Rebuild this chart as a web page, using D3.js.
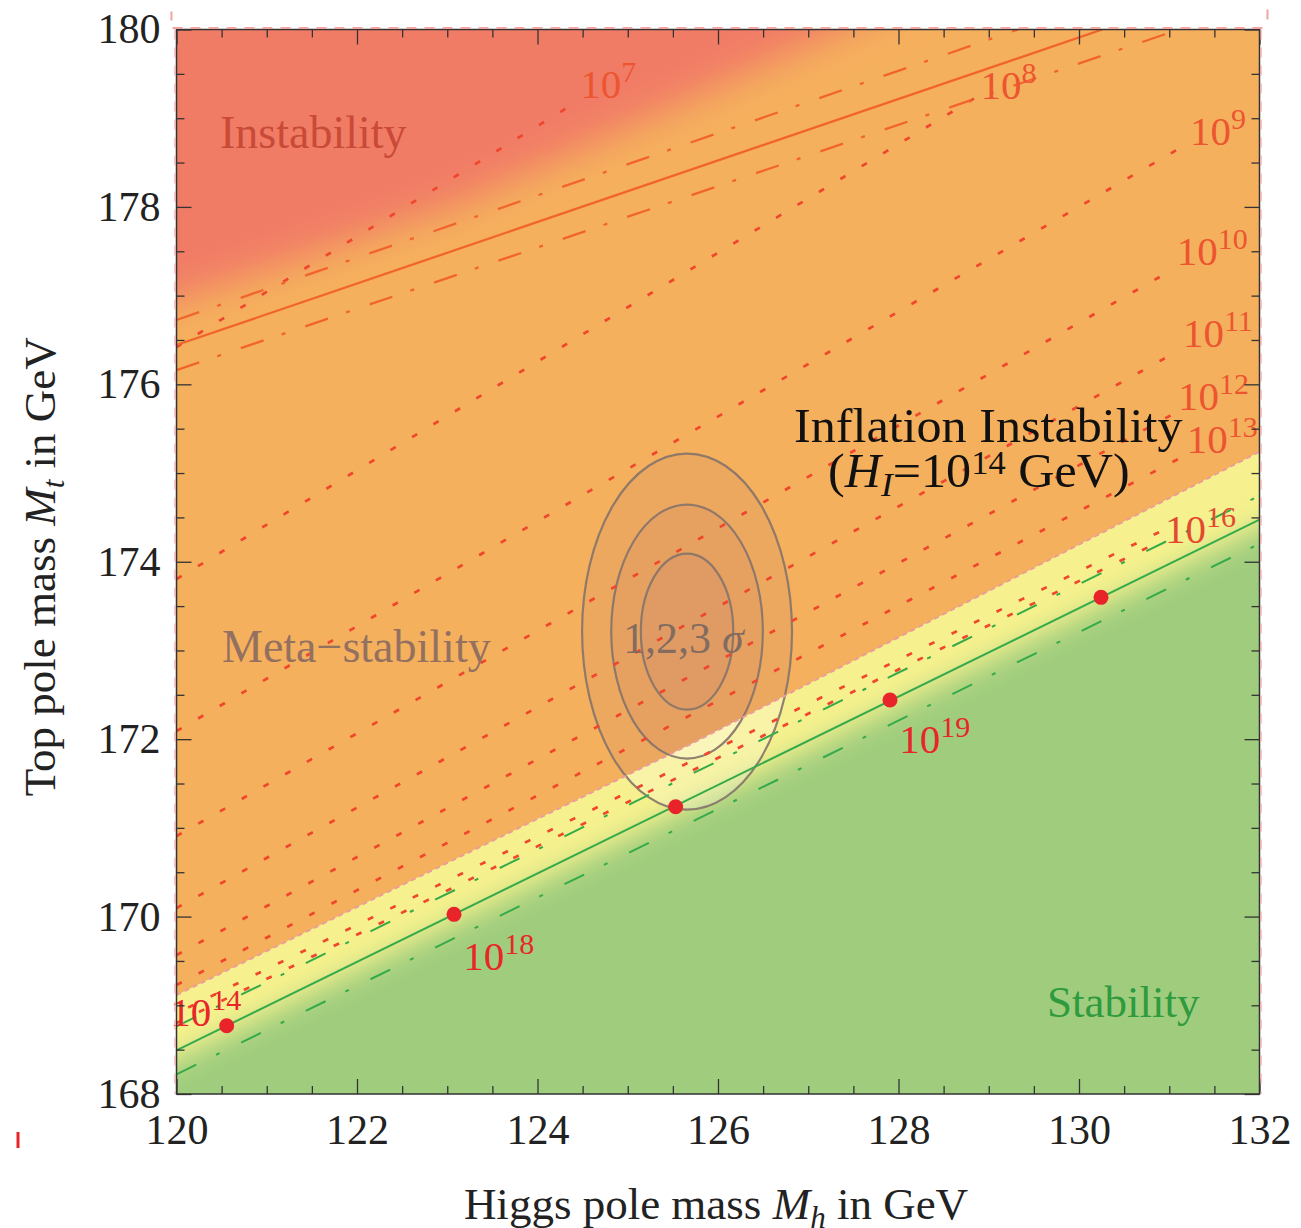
<!DOCTYPE html>
<html><head><meta charset="utf-8">
<script src="https://cdn.jsdelivr.net/npm/d3@7"></script>
<style>
html,body{margin:0;padding:0;background:#fff;}
svg{display:block;}
text{font-family:"Liberation Serif","Times New Roman",serif;}
</style></head><body>
<div id="chart"></div>
<script>
// ---------------- data ----------------
const xDomain = [120, 132];
const yDomain = [168, 180];
const xTickValues = [120, 122, 124, 126, 128, 130, 132];
const yTickValues = [168, 170, 172, 174, 176, 178, 180];

// absolute-stability boundary (orange) : central + error band
const instabilitySolid = [[120, 176.443], [130.259, 180]];
const instabilityUpper = [[120, 176.725], [129.324, 180]];
const instabilityLower = [[120, 176.161], [131.108, 180]];
// colour edge of the red "Instability" shading
const instabilityEdge = [[120, 176.95], [123.1, 178.02], [125.65, 179.2], [127.35, 180]];

// inflation-instability boundary (H_I = 10^14 GeV)
const inflationBoundary = [[120, 169.115], [125.69, 171.94], [132, 175.24]];

// stability line (green) : central + error band
const stabilitySolid = [[120, 168.492], [132, 174.474]];
const stabilityUpper = [[120, 168.762], [132, 174.744]];
const stabilityLower = [[120, 168.222], [132, 174.204]];

// dotted instability-scale contours inside the yellow band
const bandDotted1 = [[120, 168.80], [130.9, 174.23]];
const bandDotted2 = [[120, 168.91], [130.9, 174.34]];

// dotted instability-scale contours 10^7 ... 10^13 GeV
const scaleExponents = [7, 8, 9, 10, 11, 12, 13];
const scaleLineStart = [[120, 176.420], [120, 173.805], [120, 172.091], [120, 170.908], [120, 170.096], [120, 169.566], [120, 169.228]];
const scaleLineEnd = [[124.416, 179.171], [128.903, 179.262], [131.119, 178.664], [130.931, 177.232], [130.975, 176.308], [131.086, 175.688], [131.119, 175.169]];
const scaleLabelPos = [[124.475, 179.228], [128.908, 179.216], [131.23, 178.698], [131.083, 177.345], [131.152, 176.42], [131.097, 175.71], [131.193, 175.225]];

// points on the stability line
const pointMh = [120.556, 123.075, 125.531, 127.906, 130.244];
const pointMt = [168.769, 170.025, 171.238, 172.441, 173.599];
const pointLabelExp = [14, 18, 16, 19];
const pointLabelPos = [[119.93, 168.765], [123.178, 169.397], [130.953, 174.211], [128.009, 171.843]];

// 1,2,3 sigma ellipses
const sigmaCenter = [125.657, 173.213];
const sigmaRx = [0.512, 0.840, 1.163];
const sigmaRy = [0.879, 1.432, 2.007];

// region labels [text, Mh, Mt, colour, size]
const regionLabels = [
  ["Instability", 120.482, 178.664, "#c94a36", 46],
  ["Meta\u2212stability", 120.504, 172.869, "#937060", 46],
  ["Stability", 129.645, 168.867, "#2f9a3e", 45]
];
const inflationLabelPos = [[126.842, 175.35], [127.219, 174.842]];
const sigmaLabelPos = [124.947, 172.971];

// ---------------- drawing ----------------
const W = 1301, H = 1228;
const x = d3.scaleLinear().domain(xDomain).range([176.5, 1259.5]);
const y = d3.scaleLinear().domain(yDomain).range([1094, 29.5]);
const [px0, px1] = x.range();
const [pyB, pyT] = y.range();

const svg = d3.select("#chart").append("svg").attr("width", W).attr("height", H);
const defs = svg.append("defs");
const line = d3.line().x(d => x(d[0])).y(d => y(d[1]));
const polyStr = pts => pts.map(d => x(d[0]) + "," + y(d[1])).join(" ");

function extend(pts, a, b) {
  const p0 = pts[0], p1 = pts[1], q0 = pts[pts.length - 2], q1 = pts[pts.length - 1];
  const s0 = (p1[1] - p0[1]) / (p1[0] - p0[0]);
  const s1 = (q1[1] - q0[1]) / (q1[0] - q0[0]);
  return [[a, p0[1] + s0 * (a - p0[0])], ...pts, [b, q1[1] + s1 * (b - q1[0])]];
}
const shift = (pts, d) => pts.map(p => [p[0], p[1] + d]);

defs.append("clipPath").attr("id", "plotClip").append("rect")
  .attr("x", px0).attr("y", pyT).attr("width", px1 - px0).attr("height", pyB - pyT);

const boundaryExt = extend(inflationBoundary, 118, 134);
defs.append("clipPath").attr("id", "belowClip").append("polygon")
  .attr("points", polyStr(boundaryExt.concat([[134, 165], [118, 165]])));
defs.append("clipPath").attr("id", "aboveClip").append("polygon")
  .attr("points", polyStr(boundaryExt.concat([[134, 183], [118, 183]])));

function blurFilter(id, sd) {
  defs.append("filter").attr("id", id).attr("filterUnits", "userSpaceOnUse")
    .attr("x", -100).attr("y", -100).attr("width", W + 200).attr("height", H + 200)
    .append("feGaussianBlur").attr("stdDeviation", sd);
}
blurFilter("blurRed", 19);
blurFilter("blurYellow", 14);

const plot = svg.append("g").attr("clip-path", "url(#plotClip)");

// orange (meta-stability) background
plot.append("rect").attr("x", px0).attr("y", pyT).attr("width", px1 - px0).attr("height", pyB - pyT)
  .attr("fill", "#f5b05d");

// red instability shading
const redPoly = extend(instabilityEdge, 117, 129).concat([[129, 183], [117, 183]]);
plot.append("polygon").attr("points", polyStr(redPoly)).attr("fill", "#f17b66")
  .attr("filter", "url(#blurRed)");

// green + yellow below boundary
const below = plot.append("g").attr("clip-path", "url(#belowClip)");
below.append("rect").attr("x", px0).attr("y", pyT).attr("width", px1 - px0).attr("height", pyB - pyT)
  .attr("fill", "#9fcd7d");
const yTop = extend(shift(inflationBoundary, 0.8), 117, 135);
const yBot = extend(shift(stabilitySolid, -0.1), 117, 135).reverse();
below.append("polygon").attr("points", polyStr(yTop.concat(yBot))).attr("fill", "#f6f18e")
  .attr("filter", "url(#blurYellow)");

// sigma ellipses
const ellAbove = plot.append("g").attr("clip-path", "url(#aboveClip)");
const ellBelow = plot.append("g").attr("clip-path", "url(#belowClip)");
const ellGeom = (sel, i) => sel.attr("cx", x(sigmaCenter[0])).attr("cy", y(sigmaCenter[1]))
  .attr("rx", x(sigmaCenter[0] + sigmaRx[i]) - x(sigmaCenter[0]))
  .attr("ry", y(sigmaCenter[1]) - y(sigmaCenter[1] + sigmaRy[i]));
sigmaRx.forEach((rx, i) => {
  ellAbove.append("ellipse").call(ellGeom, i).attr("fill", "rgba(175,105,115,0.11)");
  ellBelow.append("ellipse").call(ellGeom, i).attr("fill", "rgba(255,252,240,0.25)");
});
sigmaRx.forEach((rx, i) => {
  plot.append("ellipse").call(ellGeom, i)
    .attr("fill", "none").attr("stroke", "#85736a").attr("stroke-width", 2.2).attr("stroke-opacity", 0.9);
});

// boundary edge (pink dashed)
plot.append("path").attr("d", line(inflationBoundary)).attr("fill", "none")
  .attr("stroke", "#ee9a9e").attr("stroke-width", 2).attr("stroke-dasharray", "5,4");

// dotted scale contours
const dotted = sel => sel.attr("fill", "none").attr("stroke", "#f0462d").attr("stroke-width", 2.7)
  .attr("stroke-dasharray", "6,19");
scaleExponents.forEach((e, i) => {
  plot.append("path").attr("d", line([scaleLineStart[i], scaleLineEnd[i]])).call(dotted);
});
plot.append("path").attr("d", line(bandDotted1)).call(dotted);
plot.append("path").attr("d", line(bandDotted2)).call(dotted).attr("stroke-dashoffset", 12);

// instability (orange) lines
const oCol = "#f2642d";
plot.append("path").attr("d", line(instabilitySolid)).attr("fill", "none").attr("stroke", oCol).attr("stroke-width", 2.3);
[instabilityUpper, instabilityLower].forEach(l => plot.append("path").attr("d", line(l)).attr("fill", "none")
  .attr("stroke", oCol).attr("stroke-width", 2.3).attr("stroke-dasharray", "24,19,4,21"));

// stability (green) lines
const gCol = "#35aa4a";
plot.append("path").attr("d", line(stabilitySolid)).attr("fill", "none").attr("stroke", gCol).attr("stroke-width", 2);
[stabilityUpper, stabilityLower].forEach(l => plot.append("path").attr("d", line(l)).attr("fill", "none")
  .attr("stroke", gCol).attr("stroke-width", 2).attr("stroke-dasharray", "22,22,4,24"));

// points
plot.selectAll("circle.pt").data(pointMh).join("circle").attr("class", "pt")
  .attr("cx", d => x(d)).attr("cy", (d, i) => y(pointMt[i])).attr("r", 7.5).attr("fill", "#e8232a");

// ---------------- text labels ----------------
function powLabel(pos, exp, color, base = 41, sup = 30) {
  const t = svg.append("text").attr("x", x(pos[0])).attr("y", y(pos[1])).attr("fill", color)
    .attr("font-size", base);
  t.append("tspan").text("10");
  t.append("tspan").attr("dy", -16).attr("font-size", sup).text(String(exp));
}
scaleExponents.forEach((e, i) => powLabel(scaleLabelPos[i], e, "#ec5530"));
pointLabelExp.forEach((e, i) => powLabel(pointLabelPos[i], e, e === 16 ? "#e24a30" : "#e8262a"));

regionLabels.forEach(([s, mh, mt, c, fs]) => {
  svg.append("text").attr("x", x(mh)).attr("y", y(mt)).attr("fill", c).attr("font-size", fs).text(s);
});

svg.append("text")
  .attr("transform", `translate(${x(inflationLabelPos[0][0])},${y(inflationLabelPos[0][1])}) scale(1.045,1)`)
  .attr("font-size", 48).attr("fill", "#111").text("Inflation Instability");
const inf2 = svg.append("text")
  .attr("transform", `translate(${x(inflationLabelPos[1][0])},${y(inflationLabelPos[1][1])}) scale(1.045,1)`)
  .attr("font-size", 48).attr("fill", "#111");
inf2.append("tspan").text("(");
inf2.append("tspan").attr("font-style", "italic").text("H");
inf2.append("tspan").attr("font-style", "italic").attr("font-size", 34).attr("dy", 9).text("I");
inf2.append("tspan").attr("dy", -9).text("=10");
inf2.append("tspan").attr("font-size", 33).attr("dy", -13).text("14");
inf2.append("tspan").attr("dy", 13).text(" GeV)");

const sg = svg.append("text").attr("x", x(sigmaLabelPos[0])).attr("y", y(sigmaLabelPos[1]))
  .attr("font-size", 44).attr("fill", "#7d695f").attr("fill-opacity", 0.95);
sg.append("tspan").text("1,2,3 ");
sg.append("tspan").attr("font-style", "italic").text("\u03C3");

// ---------------- axes & frame ----------------
const minorX = d3.range(xDomain[0], xDomain[1] + 0.25, 0.5).filter(v => !xTickValues.includes(v));
const minorY = d3.range(yDomain[0], yDomain[1] + 0.25, 0.5).filter(v => !yTickValues.includes(v));
const axisStyle = g => {
  g.select(".domain").remove();
  g.attr("color", "#333").attr("font-family", "Liberation Serif, Times New Roman, serif").attr("font-size", 42);
  g.selectAll("line").attr("stroke-width", 1.3);
  g.selectAll("text").attr("fill", "#222");
};
svg.append("g").attr("transform", `translate(0,${pyB})`)
  .call(d3.axisBottom(x).tickValues(xTickValues).tickSize(-15).tickPadding(20).tickFormat(d3.format("d"))).call(axisStyle);
svg.append("g").attr("transform", `translate(0,${pyB})`)
  .call(d3.axisBottom(x).tickValues(minorX).tickSize(-8).tickFormat("")).call(axisStyle);
svg.append("g").attr("transform", `translate(${px0},0)`)
  .call(d3.axisLeft(y).tickValues(yTickValues).tickSize(-15).tickPadding(16).tickFormat(d3.format("d"))).call(axisStyle);
svg.append("g").attr("transform", `translate(${px0},0)`)
  .call(d3.axisLeft(y).tickValues(minorY).tickSize(-8).tickFormat("")).call(axisStyle);
svg.append("g").attr("transform", `translate(0,${pyT})`)
  .call(d3.axisTop(x).tickValues(xTickValues).tickSize(-15).tickFormat("")).call(axisStyle);
svg.append("g").attr("transform", `translate(0,${pyT})`)
  .call(d3.axisTop(x).tickValues(minorX).tickSize(-8).tickFormat("")).call(axisStyle);
svg.append("g").attr("transform", `translate(${px1},0)`)
  .call(d3.axisRight(y).tickValues(yTickValues).tickSize(-15).tickFormat("")).call(axisStyle);
svg.append("g").attr("transform", `translate(${px1},0)`)
  .call(d3.axisRight(y).tickValues(minorY).tickSize(-8).tickFormat("")).call(axisStyle);

svg.append("rect").attr("x", px0).attr("y", pyT).attr("width", px1 - px0).attr("height", pyB - pyT)
  .attr("fill", "none").attr("stroke", "#333").attr("stroke-width", 1.5);
// pinkish dashed overlay on the frame (as in the source image)
const pink = sel => sel.attr("stroke", "#f4a3a3").attr("stroke-width", 2).attr("stroke-dasharray", "10,8").attr("fill", "none");
svg.append("line").attr("x1", px0 - 4).attr("x2", px1 + 4).attr("y1", pyT - 1.5).attr("y2", pyT - 1.5).call(pink);
svg.append("line").attr("x1", px0 - 1.5).attr("x2", px0 - 1.5).attr("y1", pyT).attr("y2", pyB).call(pink).attr("stroke-opacity", 0.6);
svg.append("line").attr("x1", px1 + 1.5).attr("x2", px1 + 1.5).attr("y1", pyT).attr("y2", pyB).call(pink).attr("stroke-opacity", 0.6);
// small crop marks of the source figure
svg.append("line").attr("x1", px0 - 5).attr("x2", px0 - 5).attr("y1", pyT - 18).attr("y2", pyT - 9).call(pink);
svg.append("line").attr("x1", px1 + 8).attr("x2", px1 + 8).attr("y1", pyT - 20).attr("y2", pyT - 6).call(pink);
svg.append("line").attr("x1", 18).attr("x2", 18).attr("y1", pyB + 38).attr("y2", pyB + 54)
  .attr("stroke", "#e8232a").attr("stroke-width", 3);

// axis titles
const xt = svg.append("text").attr("x", (px0 + px1) / 2 - 2).attr("y", 1219).attr("text-anchor", "middle")
  .attr("font-size", 45).attr("fill", "#222");
xt.append("tspan").text("Higgs pole mass ");
xt.append("tspan").attr("font-style", "italic").text("M");
xt.append("tspan").attr("font-style", "italic").attr("font-size", 31).attr("dy", 9).text("h");
xt.append("tspan").attr("dy", -9).text(" in GeV");

const yt = svg.append("text").attr("transform", `translate(55,${(pyT + pyB) / 2 + 5}) rotate(-90)`)
  .attr("text-anchor", "middle").attr("font-size", 45).attr("fill", "#222");
yt.append("tspan").text("Top pole mass ");
yt.append("tspan").attr("font-style", "italic").text("M");
yt.append("tspan").attr("font-style", "italic").attr("font-size", 31).attr("dy", 9).text("t");
yt.append("tspan").attr("dy", -9).text(" in GeV");
</script>
</body></html>
